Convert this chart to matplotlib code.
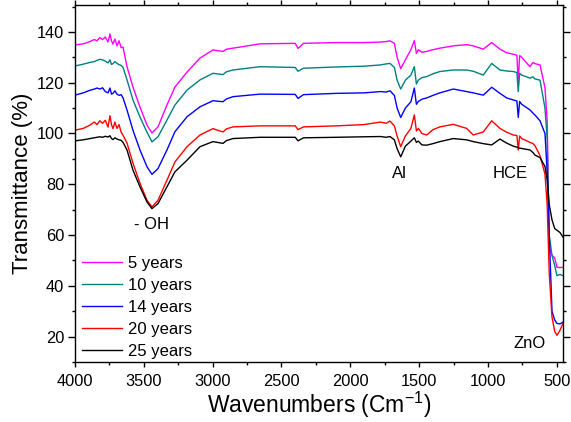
import matplotlib
matplotlib.use("Agg")
import matplotlib.pyplot as plt
from matplotlib.ticker import MultipleLocator

plt.rcParams['font.family'] = ['Liberation Sans', 'DejaVu Sans']
plt.rcParams['mathtext.default'] = 'regular'

wavenumber = [4000, 3940, 3891, 3860, 3840, 3820, 3800, 3780, 3760, 3746,
              3735, 3724, 3710, 3695, 3680, 3665, 3651, 3622, 3579, 3528,
              3477, 3441, 3397, 3332, 3274, 3186, 3092, 2998, 2925, 2900,
              2852, 2656, 2400, 2380, 2340, 2100, 1900, 1780, 1740, 1712,
              1680, 1660, 1634, 1600, 1560, 1535, 1520, 1506, 1480, 1445,
              1400, 1349, 1252, 1155, 1107, 1034, 973, 913, 864, 816,
              790, 780, 770, 755, 695, 673, 659, 622, 586, 570,
              555, 535, 515, 499, 477, 455]

t_5 = [134.9, 135.3, 136.2, 137.0, 136.5, 137.8, 137.0, 138.0, 136.0, 139.2,
       136.5, 135.2, 137.2, 134.5, 136.5, 133.8, 134.0, 126.3, 118.3, 110.4,
       103.3, 100.2, 102.6, 111.2, 118.3, 124.2, 129.7, 132.9, 132.3, 133.2,
       133.6, 135.3, 135.5, 133.5, 135.5, 135.8, 135.8, 136.0, 136.2, 136.5,
       135.5, 130.0, 125.5, 129.0, 133.0, 136.6, 131.5, 133.0, 132.0, 132.3,
       133.0, 133.6, 134.5, 135.0, 134.5, 133.2, 135.8, 133.2, 131.8, 131.2,
       130.8, 120.3, 130.7, 130.0, 126.3, 128.0, 127.5, 127.0, 118.0, 105.0,
       55.0, 52.0, 51.0, 47.3, 47.2, 47.3]

t_10 = [126.6, 127.3, 128.0, 128.3, 128.8, 129.2, 129.0, 128.5, 127.8, 129.0,
        127.2, 127.5, 128.3, 127.6, 127.1, 126.8, 126.0, 121.1, 113.2, 106.5,
        100.5, 96.7, 98.7, 105.3, 111.2, 117.1, 121.1, 123.7, 123.2, 124.3,
        125.0, 126.3, 126.0, 124.5, 125.7, 126.2, 126.5, 127.0, 127.4, 127.6,
        126.0, 121.0, 117.5, 121.0, 123.0, 126.3, 119.5, 121.0, 122.0, 122.4,
        123.5, 124.4, 125.0, 125.0, 124.5, 123.0, 127.6, 125.0, 124.6, 124.4,
        124.0, 116.5, 123.7, 123.0, 121.8, 122.3, 121.5, 121.0, 110.0, 98.0,
        60.0, 52.0, 48.0, 44.0, 44.5, 44.0]

t_14 = [115.1, 116.0, 117.0, 117.5, 117.9, 117.5, 118.0, 116.5, 116.0, 117.9,
        115.5, 115.8, 116.8, 115.5, 115.0, 115.3, 114.0, 109.2, 101.3, 93.5,
        86.9, 83.9, 86.2, 93.5, 100.7, 106.6, 110.5, 112.9, 112.5, 113.6,
        114.5, 115.5, 115.4, 113.8, 115.3, 115.8, 116.0, 116.5, 116.3, 116.8,
        115.0, 110.0, 106.3, 110.0, 112.5, 117.9, 111.5, 112.6, 113.5, 114.0,
        115.0, 116.0, 117.5, 116.5, 116.0, 115.1, 118.2, 115.8, 114.0, 113.2,
        112.8, 106.3, 112.6, 111.5, 109.3, 108.0, 107.3, 105.0, 100.0, 85.0,
        60.0, 30.0, 26.5, 25.2, 25.0, 25.7]

t_20 = [101.3, 102.0, 103.3, 104.5, 103.5, 105.0, 104.0, 105.2, 102.5, 107.0,
        103.5, 101.9, 104.5, 102.0, 103.5, 100.5, 99.3, 96.2, 88.3, 80.4,
        73.7, 71.1, 73.7, 81.6, 88.8, 94.8, 99.4, 101.9, 100.6, 101.8,
        102.6, 103.0, 103.0, 101.5, 102.6, 103.0, 103.5, 104.5, 104.0, 104.9,
        103.0, 99.0, 94.8, 99.0, 102.0, 107.3, 101.0, 102.0, 100.0, 99.4,
        101.5, 102.6, 103.6, 102.0, 99.4, 100.6, 105.0, 102.0, 100.5, 99.4,
        99.2, 93.5, 99.0, 98.0, 96.5, 96.0, 95.2, 91.3, 84.0, 72.0,
        45.0, 27.7, 22.0, 20.5, 22.5, 25.2]

t_25 = [97.1, 97.5, 98.0, 98.3, 98.5, 98.7, 98.5, 98.9, 98.6, 99.1,
        98.0, 97.6, 98.3, 97.8, 97.5, 97.3, 96.5, 93.5, 85.6, 79.0,
        73.0, 70.4, 72.4, 79.0, 84.9, 89.5, 94.8, 96.8, 96.1, 97.2,
        98.0, 98.5, 98.5, 97.1, 98.3, 98.5, 98.7, 98.8, 98.5, 98.8,
        97.5, 94.0, 90.8, 95.0, 97.0, 98.3, 96.5, 97.0, 95.5, 95.4,
        96.0, 96.8, 98.0, 97.5, 96.8, 96.0, 95.5, 97.8, 96.2, 95.0,
        94.6, 94.4, 94.2, 94.1, 93.5, 92.5, 91.5, 90.5, 87.0, 82.0,
        72.0, 66.0, 62.5, 61.9, 61.0, 59.2]

series_labels = ['5 years', '10 years', '14 years', '20 years', '25 years']
series_colors = ['#FF00FF', '#008080', '#0000FF', '#FF0000', '#000000']
series_values = [t_5, t_10, t_14, t_20, t_25]

fig = plt.figure(figsize=(5.71, 4.22), dpi=100)
ax = fig.add_axes([75/571, 1-362/422, (563-75)/571, (362-5)/422])

for vals, col, lab in zip(series_values, series_colors, series_labels):
    ax.plot(wavenumber, vals, color=col, lw=1.0, label=lab)

ax.set_xlim(4000, 455)
ax.set_ylim(10, 150.6)
ax.xaxis.set_major_locator(MultipleLocator(500))
ax.xaxis.set_minor_locator(MultipleLocator(250))
ax.yaxis.set_major_locator(MultipleLocator(20))
ax.yaxis.set_minor_locator(MultipleLocator(10))
ax.tick_params(which='both', direction='out', top=True, right=True,
               labeltop=False, labelright=False, labelsize=11.8, width=1)
ax.tick_params(axis='x', which='major', length=3.8, pad=4.5)
ax.tick_params(axis='y', which='major', length=4.8, pad=3.0)
ax.tick_params(which='minor', length=2.3)
for s in ax.spines.values():
    s.set_linewidth(1.0)

ax.set_xlabel('Wavenumbers (Cm$^{-1}$)', fontsize=16.5, labelpad=1)
ax.set_ylabel('Transmittance (%)', fontsize=16, labelpad=3)

ax.text(3441, 64.3, '- OH', fontsize=12, ha='center', va='center')
ax.text(1647, 84.4, 'Al', fontsize=12, ha='center', va='center')
ax.text(840, 84.4, 'HCE', fontsize=12, ha='center', va='center')
ax.text(695, 17.3, 'ZnO', fontsize=12, ha='center', va='center')

leg = ax.legend(loc='upper left', bbox_to_anchor=(0.015, 0.297), frameon=False,
                fontsize=12, handlelength=2.4, handletextpad=0.36,
                labelspacing=0.42, borderpad=0, borderaxespad=0)

fig.savefig('out.png', dpi=100)
